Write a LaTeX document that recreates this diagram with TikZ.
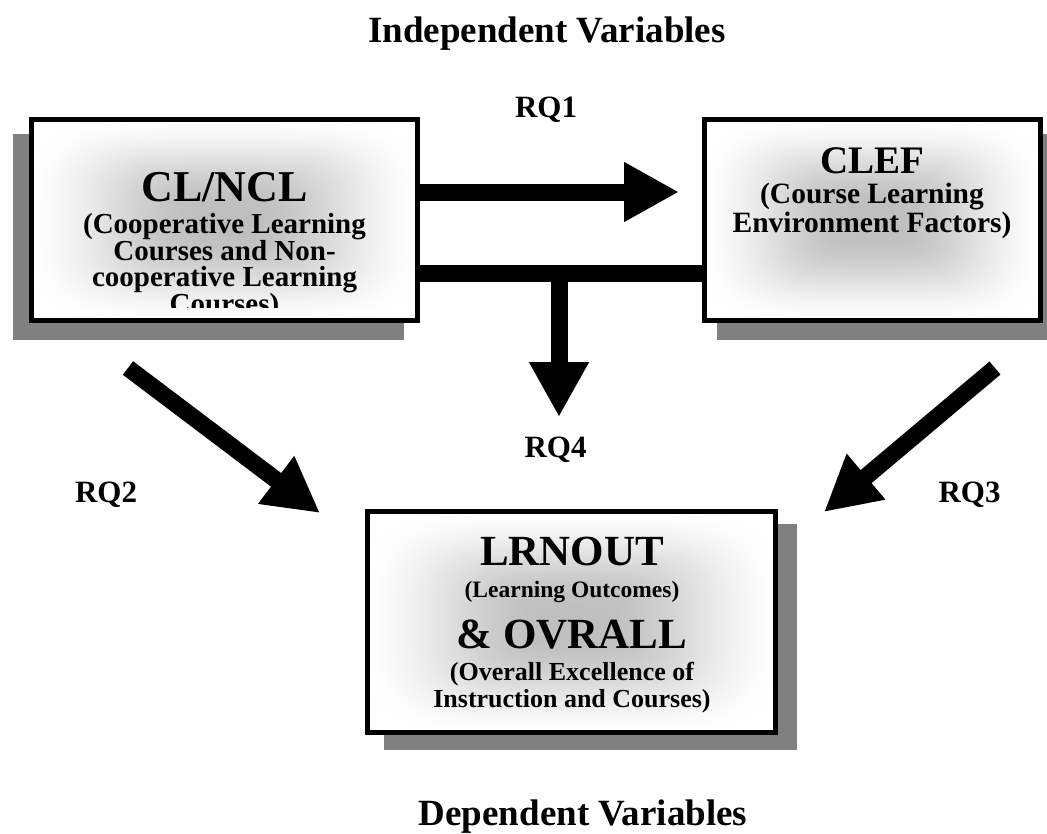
\documentclass[tikz,border=0pt]{standalone}
\usepackage{fontspec}
\setmainfont{Liberation Serif}
\usetikzlibrary{arrows.meta, positioning, shadows}

% soft grey glow, lighter towards the frame
\pgfdeclarefunctionalshading{boxglow}{\pgfpoint{-50bp}{-50bp}}{\pgfpoint{50bp}{50bp}}{}{
  25 div dup mul dup mul
  exch 25 div dup mul dup mul add
  sqrt sqrt
  0.12 sub 0.95 div
  dup 0 lt {pop 0} if
  dup 1 gt {pop 1} if
  dup dup mul exch 2 mul 3 exch sub mul
  0.25 mul 0.75 add
  dup dup
}
\newcommand{\tightskip}{\lineskiplimit=-50pt\relax}

\tikzset{
  varbox/.style={
    rectangle, draw=black, line width=5pt, inner sep=0pt,
    shade, shading=boxglow
  },
  boxshade/.style 2 args={
    general shadow={fill=black!50, draw=black!50, line width=5pt,
      shadow xshift=#1, shadow yshift=#2}
  },
  boxtext/.style={
    align=center, inner sep=0pt,
    font=\bfseries\fontsize{29pt}{26.5pt}\selectfont\tightskip
  },
  heading/.style={font=\bfseries\fontsize{37pt}{40pt}\selectfont, inner sep=0pt},
  rqlabel/.style={font=\bfseries\fontsize{31pt}{34pt}\selectfont, inner sep=0pt},
  bigarrow/.style={line width=17pt, -{Triangle[length=55pt, width=56pt]}},
  barline/.style={line width=17pt}
}

\begin{document}
\begin{tikzpicture}[x=1pt, y=-1pt]
  \useasboundingbox (0,0) rectangle (1047,833);

  % Headings
  \node[heading, anchor=base] (indep) at (547,42) {Independent Variables};
  \node[heading, anchor=base] (dep) at (583,825) {Dependent Variables};

  % Boxes
  \node[varbox, boxshade={-16pt}{-17pt}, minimum width=386pt, minimum height=201pt] (clncl) at (224.5,220) {};
  \node[varbox, boxshade={15pt}{-17pt}, minimum width=336pt, minimum height=201pt] (clef) at (872.5,220) {};
  \node[varbox, boxshade={19pt}{-15pt}, minimum width=408pt, minimum height=221pt] (lrnout) at (571.5,622) {};

  % Box texts (first one runs past its frame)
  \begin{scope}
    \clip ([shift={(5,-16)}]clncl.south west) rectangle ([shift={(-5,5)}]clncl.north east);
    \node[boxtext, anchor=base] (clncl-text) at (224.5,313)
      {{\fontsize{44pt}{44pt}\selectfont CL/NCL}\\[5.5pt]
       (Cooperative Learning\\ Courses and Non-\\ cooperative Learning\\ Courses)};
  \end{scope}
  \node[boxtext, font=\bfseries\fontsize{29.5pt}{29pt}\selectfont\tightskip, anchor=base] (clef-text) at (872,232)
    {{\fontsize{39pt}{39pt}\selectfont CLEF}\\[1pt]
     (Course Learning\\ Environment Factors)};
  \node[boxtext, font=\bfseries\fontsize{26pt}{27pt}\selectfont\tightskip, anchor=base] (lrnout-text) at (572,707)
    {{\fontsize{43pt}{43pt}\selectfont LRNOUT}\\[5pt]
     {\fontsize{23.5pt}{27pt}\selectfont (Learning Outcomes)}\\[24pt]
     {\fontsize{43pt}{43pt}\selectfont \& OVRALL}\\[5pt]
     (Overall Excellence of\\ Instruction and Courses)};

  % RQ1
  \coordinate (rq1tip) at (679,192);
  \draw[bigarrow] (clncl.east |- rq1tip) -- (rq1tip);
  \node[rqlabel, anchor=base] (rq1) at (546,117) {RQ1};

  % RQ4
  \coordinate (rq4bar) at (559,273);
  \coordinate (rq4tip) at (559,417);
  \draw[barline] (clncl.east |- rq4bar) -- (clef.west |- rq4bar);
  \draw[bigarrow] (rq4bar) -- (rq4tip);
  \node[rqlabel, anchor=base] (rq4) at (555.5,457) {RQ4};

  % RQ2 and RQ3
  \coordinate (rq2tail) at (128,368);
  \coordinate (rq2tip) at (320,513);
  \draw[bigarrow] (rq2tail) -- (rq2tip);
  \node[rqlabel, anchor=base] (rq2) at (106,502) {RQ2};

  \coordinate (rq3tail) at (995,368);
  \coordinate (rq3tip) at (824,512);
  \draw[bigarrow] (rq3tail) -- (rq3tip);
  \node[rqlabel, anchor=base] (rq3) at (969.5,502) {RQ3};
\end{tikzpicture}
\end{document}
